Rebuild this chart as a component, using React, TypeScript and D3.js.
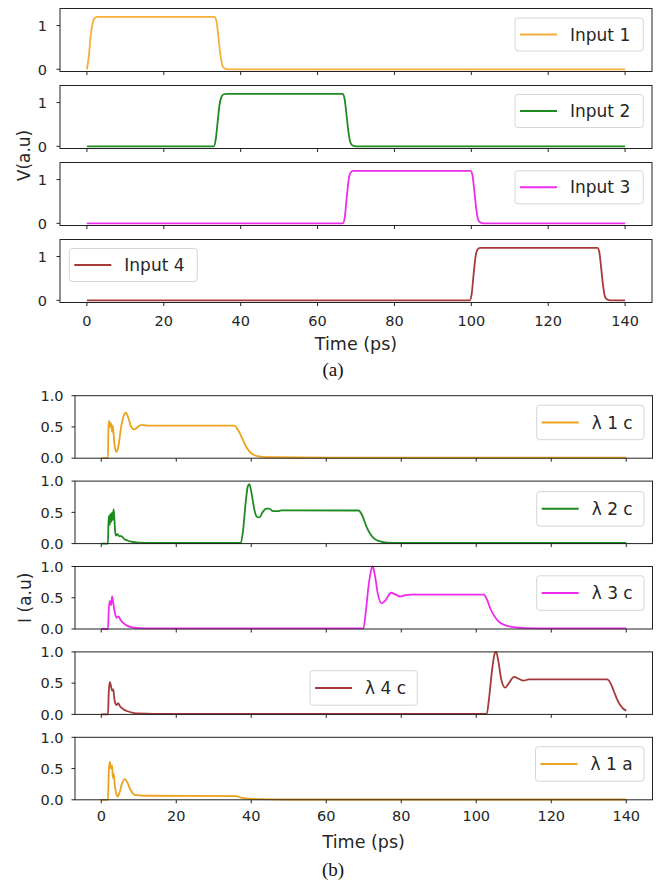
import React from "react";
import * as d3 from "d3";

// ---------- DATA ----------
const X_TICKS = [0, 20, 40, 60, 80, 100, 120, 140];
const TOP_Y_TICKS = [0, 1];
const BOTTOM_Y_TICKS = [0, 0.5, 1.0];

const INPUT_NAMES = ["Input 1", "Input 2", "Input 3", "Input 4"];
const OUTPUT_NAMES = ["λ 1 c", "λ 2 c", "λ 3 c", "λ 4 c", "λ 1 a"];

const INPUT1: [number, number][] = [
  [0, 0], [0.5, 0.3], [1, 0.78], [1.5, 1.06], [2, 1.17], [2.6, 1.2], [33.2, 1.2], [33.7, 1.1],
  [34.2, 0.75], [34.7, 0.35], [35.2, 0.1], [35.8, 0.02], [36.6, 0], [140, 0],
];
const INPUT2: [number, number][] = [
  [0, 0], [33, 0], [33.5, 0.15], [34, 0.55], [34.5, 0.95], [35, 1.13], [35.6, 1.19], [36.4, 1.2],
  [66.5, 1.2], [67, 1.1], [67.5, 0.75], [68, 0.35], [68.5, 0.1], [69.1, 0.02], [70, 0], [140, 0],
];
const INPUT3: [number, number][] = [
  [0, 0], [66.6, 0], [67.1, 0.15], [67.6, 0.6], [68.1, 1.0], [68.6, 1.16], [69.3, 1.2],
  [99.8, 1.2], [100.3, 1.1], [100.8, 0.72], [101.3, 0.32], [101.8, 0.08], [102.4, 0.015], [103.2, 0], [140, 0],
];
const INPUT4: [number, number][] = [
  [0, 0], [99.6, 0], [100.1, 0.15], [100.6, 0.6], [101.1, 1.0], [101.6, 1.16], [102.3, 1.2],
  [132.8, 1.2], [133.3, 1.1], [133.8, 0.72], [134.3, 0.32], [134.8, 0.08], [135.4, 0.015], [136.2, 0], [140, 0],
];

const L1C: [number, number][] = [
  [0, 0], [1.8, 0], [1.9, 0.45], [2.1, 0.6], [2.4, 0.5], [2.6, 0.56], [2.9, 0.42], [3.1, 0.52],
  [3.4, 0.3], [3.7, 0.15], [4.1, 0.1], [4.6, 0.2], [5.3, 0.5], [6, 0.68], [6.6, 0.73], [7.2, 0.65],
  [8, 0.5], [8.8, 0.46], [9.6, 0.49], [10.5, 0.53], [11.3, 0.53], [12.5, 0.52], [35.5, 0.52],
  [36.5, 0.45], [37.5, 0.33], [38.5, 0.2], [39.5, 0.11], [40.5, 0.06], [42, 0.03], [45, 0.015],
  [60, 0.01], [140, 0.01],
];
const L2C: [number, number][] = [
  [0, 0], [1.8, 0], [1.9, 0.3], [2.1, 0.45], [2.3, 0.3], [2.5, 0.48], [2.7, 0.35], [2.9, 0.5],
  [3.1, 0.38], [3.3, 0.55], [3.5, 0.4], [3.7, 0.2], [3.9, 0.13], [4.3, 0.15], [4.8, 0.12],
  [5.4, 0.12], [6, 0.08], [7, 0.05], [8, 0.03], [10, 0.015], [14, 0.01], [37.2, 0.01],
  [37.8, 0.2], [38.5, 0.65], [39.1, 0.92], [39.5, 0.95], [40.1, 0.8], [40.8, 0.55], [41.5, 0.43],
  [42.2, 0.42], [43, 0.5], [44, 0.56], [44.8, 0.56], [45.8, 0.52], [47, 0.52], [48, 0.53],
  [68.6, 0.53], [69.6, 0.45], [70.8, 0.26], [71.8, 0.15], [72.8, 0.08], [74.4, 0.035],
  [76.1, 0.015], [80, 0.01], [140, 0.01],
];
const L3C: [number, number][] = [
  [0, 0], [1.8, 0], [2, 0.3], [2.3, 0.45], [2.6, 0.38], [2.9, 0.52], [3.2, 0.42], [3.5, 0.3],
  [3.8, 0.22], [4.1, 0.18], [4.6, 0.2], [5.2, 0.14], [6, 0.09], [7, 0.05], [8, 0.03], [10, 0.015],
  [14, 0.01], [69.9, 0.01], [70.5, 0.25], [71.3, 0.7], [72, 0.95], [72.4, 1.0], [73, 0.85],
  [73.8, 0.55], [74.8, 0.41], [75.8, 0.46], [77.3, 0.58], [78.5, 0.55], [79.7, 0.52], [81, 0.54],
  [82.5, 0.55], [102, 0.55], [102.8, 0.48], [103.8, 0.32], [104.6, 0.23], [105.8, 0.13],
  [107.3, 0.07], [110, 0.03], [113, 0.015], [120, 0.01], [140, 0.01],
];
const L4C: [number, number][] = [
  [0, 0], [1.8, 0], [2, 0.35], [2.3, 0.52], [2.6, 0.45], [2.9, 0.38], [3.2, 0.4], [3.5, 0.25],
  [3.8, 0.17], [4.1, 0.15], [4.5, 0.18], [5, 0.13], [6, 0.08], [7, 0.05], [8.5, 0.025], [10, 0.015],
  [14, 0.01], [102.8, 0.01], [103.4, 0.25], [104.2, 0.7], [104.9, 0.97], [105.3, 1.0], [105.9, 0.85],
  [106.7, 0.55], [107.7, 0.43], [108.7, 0.5], [110.1, 0.6], [111.3, 0.57], [112.6, 0.54],
  [114, 0.56], [134.9, 0.56], [135.8, 0.5], [136.7, 0.37], [137.5, 0.25], [138.4, 0.15],
  [139.2, 0.09], [140, 0.06],
];
const L1A: [number, number][] = [
  [0, 0], [1.8, 0], [2, 0.45], [2.3, 0.61], [2.6, 0.5], [2.9, 0.55], [3.1, 0.35], [3.3, 0.42],
  [3.6, 0.24], [4, 0.1], [4.4, 0.05], [4.9, 0.12], [5.5, 0.25], [6.3, 0.33], [7, 0.27], [7.8, 0.16],
  [8.9, 0.08], [10, 0.07], [12, 0.065], [36, 0.06], [37, 0.04], [38, 0.025], [39, 0.02],
  [42, 0.012], [50, 0.005], [140, 0.005],
];

const INPUT_SERIES = [INPUT1, INPUT2, INPUT3, INPUT4];
const OUTPUT_SERIES = [L1C, L2C, L3C, L4C, L1A];

// ---------- STYLE / LAYOUT ----------
const INPUT_COLORS = ["#f5b03a", "#1f8a1f", "#ee2cee", "#a63a3a"];
const OUTPUT_COLORS = ["#eda21e", "#1f8a1f", "#ee2cee", "#a63a3a", "#eda21e"];
const FONT = "DejaVu Sans, Verdana, sans-serif";
const TEXT = "#262626";

type Section = {
  left: number; right: number; top0: number; step: number; height: number;
  yDomain: [number, number]; yTicks: number[]; fmt: (v: number) => string;
  tickLabelOff: number; xLabelOff: number;
};

const TOP: Section = {
  left: 60, right: 652, top0: 8.5, step: 77, height: 63,
  yDomain: [-0.05, 1.39], yTicks: TOP_Y_TICKS, fmt: (v) => d3.format("d")(v),
  tickLabelOff: 13, xLabelOff: 23.5,
};
const BOT: Section = {
  left: 75, right: 652.5, top0: 395.7, step: 85.4, height: 62.5,
  yDomain: [0, 1], yTicks: BOTTOM_Y_TICKS, fmt: (v) => d3.format(".1f")(v),
  tickLabelOff: 11.5, xLabelOff: 21.5,
};

// legend placement: [x, offset from panel top, width]
const TOP_LEGENDS: [number, number, number][] = [
  [515, 9.5, 128.3], [515, 9, 128.3], [515, 8.3, 128.3], [69.3, 9, 128],
];
const BOT_LEGENDS: [number, number, number][] = [
  [536.7, 9.5, 107.3], [536.7, 10.5, 107.3], [536.7, 9.3, 107.3], [310, 18.8, 107.3], [535.5, 9.4, 108.5],
];

function Panel(props: {
  sec: Section; idx: number; data: [number, number][]; color: string; name: string;
  legend: [number, number, number]; showX: boolean; lh: number;
}) {
  const { sec, idx, data, color, name, legend, showX, lh } = props;
  const top = sec.top0 + idx * sec.step;
  const bottom = top + sec.height;
  const x = d3.scaleLinear().domain([-7, 147]).range([sec.left, sec.right]);
  const y = d3.scaleLinear().domain(sec.yDomain).range([bottom, top]);
  const line = d3
    .line<[number, number]>()
    .x((d) => x(d[0]))
    .y((d) => y(d[1]))
    .curve(d3.curveMonotoneX);
  const [lx, loff, lw] = legend;
  const ly = top + loff;
  return (
    <g>
      <path d={line(data) || ""} fill="none" stroke={color} strokeWidth={1.8} strokeLinejoin="round" />
      <rect x={sec.left} y={top} width={sec.right - sec.left} height={sec.height} fill="none" stroke="#222" strokeWidth={1} />
      {sec.yTicks.map((t) => (
        <g key={"y" + t}>
          <line x1={sec.left - 3.5} x2={sec.left} y1={y(t)} y2={y(t)} stroke="#222" strokeWidth={1} />
          <text x={sec.left - sec.tickLabelOff} y={y(t)} dy="0.36em" textAnchor="end" fontSize={14.5} fontFamily={FONT} fill={TEXT}>
            {sec.fmt(t)}
          </text>
        </g>
      ))}
      {X_TICKS.map((t) => (
        <g key={"x" + t}>
          <line x1={x(t)} x2={x(t)} y1={bottom} y2={bottom + 3.5} stroke="#222" strokeWidth={1} />
          {showX && (
            <text x={x(t)} y={bottom + sec.xLabelOff} textAnchor="middle" fontSize={14.5} fontFamily={FONT} fill={TEXT}>
              {t}
            </text>
          )}
        </g>
      ))}
      <rect x={lx} y={ly} width={lw} height={lh} rx={3} fill="#fff" fillOpacity={0.85} stroke="#d6d6d6" strokeWidth={1} />
      <line x1={lx + 5} x2={lx + 42} y1={ly + lh / 2} y2={ly + lh / 2} stroke={color} strokeWidth={2} />
      <text x={lx + 55} y={ly + lh / 2} dy="0.36em" fontSize={17} fontFamily={FONT} fill={TEXT}>
        {name}
      </text>
    </g>
  );
}

export default function App() {
  const topMid = (TOP.top0 + TOP.top0 + 3 * TOP.step + TOP.height) / 2;
  const botMid = (BOT.top0 + BOT.top0 + 4 * BOT.step + BOT.height) / 2;
  const topBottom = TOP.top0 + 3 * TOP.step + TOP.height;
  const botBottom = BOT.top0 + 4 * BOT.step + BOT.height;
  return (
    <svg width={661} height={882} style={{ position: "absolute", left: 0, top: 0, background: "#fff" }}>
      <rect x={0} y={0} width={661} height={882} fill="#fff" />
      {INPUT_SERIES.map((s, i) => (
        <Panel key={"in" + i} sec={TOP} idx={i} data={s} color={INPUT_COLORS[i]} name={INPUT_NAMES[i]}
          legend={TOP_LEGENDS[i]} showX={i === 3} lh={33} />
      ))}
      {OUTPUT_SERIES.map((s, i) => (
        <Panel key={"out" + i} sec={BOT} idx={i} data={s} color={OUTPUT_COLORS[i]} name={OUTPUT_NAMES[i]}
          legend={BOT_LEGENDS[i]} showX={i === 4} lh={34.5} />
      ))}
      <text transform={`translate(30,${topMid}) rotate(-90)`} textAnchor="middle" fontSize={17} fontFamily={FONT} fill={TEXT}>
        V(a.u)
      </text>
      <text transform={`translate(31,${botMid}) rotate(-90)`} textAnchor="middle" fontSize={17} fontFamily={FONT} fill={TEXT}>
        I (a.u)
      </text>
      <text x={(TOP.left + TOP.right) / 2} y={topBottom + 47.5} textAnchor="middle" fontSize={17.5} fontFamily={FONT} fill={TEXT}>
        Time (ps)
      </text>
      <text x={(BOT.left + BOT.right) / 2} y={botBottom + 48} textAnchor="middle" fontSize={17.5} fontFamily={FONT} fill={TEXT}>
        Time (ps)
      </text>
      <text x={333} y={376} textAnchor="middle" fontSize={19} fontFamily="Liberation Serif, Times New Roman, serif" fill="#111">
        (a)
      </text>
      <text x={333} y={876} textAnchor="middle" fontSize={19} fontFamily="Liberation Serif, Times New Roman, serif" fill="#111">
        (b)
      </text>
    </svg>
  );
}
